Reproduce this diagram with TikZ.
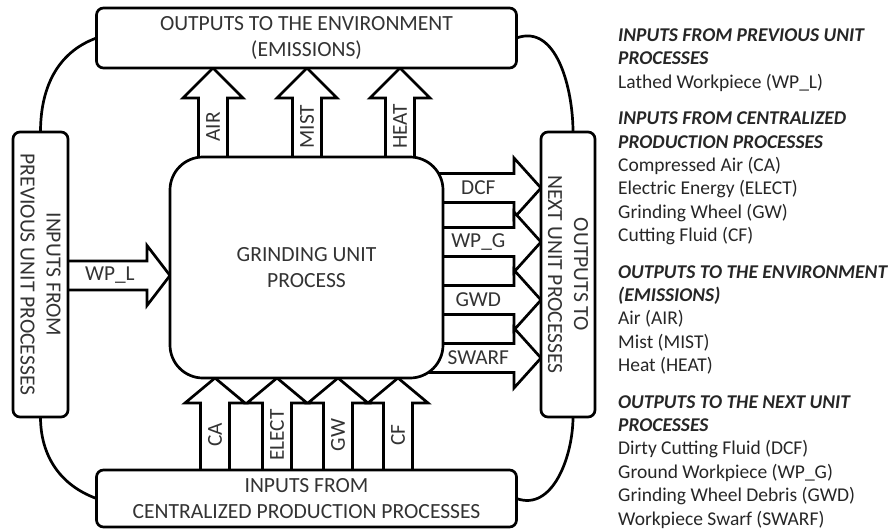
\documentclass[tikz,border=0pt]{standalone}
\usepackage{fontspec}
\setmainfont{Carlito}
\usetikzlibrary{positioning,calc,backgrounds}

\begin{document}
\begin{tikzpicture}[
    x=1pt, y=-1pt,
    node distance=89pt,
    box/.style={draw, line width=2.7pt, fill=white, rounded corners=7pt, align=center, inner sep=0pt, outer sep=0pt, text=black!80, font=\fontsize{21.6}{26}\selectfont},
    lbl/.style={inner sep=0pt, text=black!80, font=\fontsize{21.3}{26}\selectfont},
    link/.style={line width=2.7pt},
    flow head/.store in=\flowhead, flow head=28pt,
    flow/.style={draw, fill=white, line width=2.7pt, line join=miter,
        to path={-- ($(\tikztostart)!14.5pt!90:(\tikztotarget)$)
            -- ($(\tikztotarget)!\flowhead!(\tikztostart)!14.5pt!90:(\tikztotarget)$)
            -- ($(\tikztotarget)!\flowhead!(\tikztostart)!30pt!90:(\tikztotarget)$)
            -- (\tikztotarget)
            -- ($(\tikztotarget)!\flowhead!(\tikztostart)!30pt!-90:(\tikztotarget)$)
            -- ($(\tikztotarget)!\flowhead!(\tikztostart)!14.5pt!-90:(\tikztotarget)$)
            -- ($(\tikztostart)!14.5pt!-90:(\tikztotarget)$) -- cycle}},
    legend/.style={align=left, inner sep=0pt, anchor=north west, text=black!85, font=\fontsize{19.5}{23.4}\selectfont}
]
\useasboundingbox (0,0) rectangle (891,530);

% boxes
\node[box, minimum width=273pt, minimum height=221pt, rounded corners=33pt] (proc) at (306.5,267.5) {GRINDING UNIT\\PROCESS};
\node[box, minimum width=420pt, minimum height=60pt, above=of proc] (env) {OUTPUTS TO THE ENVIRONMENT\\(EMISSIONS)};
\node[box, minimum width=420pt, minimum height=57pt, below=92pt of proc] (cent) {INPUTS FROM\\CENTRALIZED PRODUCTION PROCESSES};
\node[box, rotate=-90, minimum width=285pt, minimum height=55pt] (prev) at (40.5,274.5) {INPUTS FROM\\PREVIOUS UNIT PROCESSES};
\node[box, rotate=-90, minimum width=285pt, minimum height=54pt] (next) at (568,274.5) {OUTPUTS TO\\NEXT UNIT PROCESSES};

% where the flows run
\path (213,0) coordinate (air) (307,0) coordinate (mist) (400,0) coordinate (heat)
      (215,0) coordinate (ca) (277,0) coordinate (elect) (338,0) coordinate (gw) (398,0) coordinate (cf)
      (0,188) coordinate (dcf) (0,242) coordinate (wpg) (0,300) coordinate (gwd) (0,358) coordinate (swarf)
      (0,275.5) coordinate (wpl);

\begin{scope}[on background layer]
\draw[flow, flow head=30pt] (air |- proc.center) to (air |- env.south);
\draw[flow, flow head=30pt] (mist |- proc.center) to (mist |- env.south);
\draw[flow, flow head=30pt] (heat |- proc.center) to (heat |- env.south);
\draw[flow, flow head=25pt] (ca |- cent.center) to (ca |- proc.south);
\draw[flow, flow head=25pt] (elect |- cent.center) to (elect |- proc.south);
\draw[flow, flow head=25pt] (gw |- cent.center) to (gw |- proc.south);
\draw[flow, flow head=25pt] (cf |- cent.center) to (cf |- proc.south);
\draw[flow, flow head=27pt] (proc.center |- dcf) to (next.south |- dcf);
\draw[flow, flow head=27pt] (proc.center |- wpg) to (next.south |- wpg);
\draw[flow, flow head=27pt] (proc.center |- gwd) to (next.south |- gwd);
\draw[flow, flow head=27pt] (proc.center |- swarf) to (next.south |- swarf);
\draw[flow, flow head=23pt] (prev.center |- wpl) to (proc.west |- wpl);
\end{scope}

% flow labels
\node[lbl, rotate=90] (airlbl) at ($(air |- proc.north)!.34!(air |- env.south)$) {AIR};
\node[lbl, rotate=90] (mistlbl) at ($(mist |- proc.north)!.34!(mist |- env.south)$) {MIST};
\node[lbl, rotate=90] (heatlbl) at ($(heat |- proc.north)!.34!(heat |- env.south)$) {HEAT};
\node[lbl, rotate=90] (calbl) at ($(ca |- cent.north)!.38!(ca |- proc.south)$) {CA};
\node[lbl, rotate=90] (electlbl) at ($(elect |- cent.north)!.38!(elect |- proc.south)$) {ELECT};
\node[lbl, rotate=90] (gwlbl) at ($(gw |- cent.north)!.38!(gw |- proc.south)$) {GW};
\node[lbl, rotate=90] (cflbl) at ($(cf |- cent.north)!.38!(cf |- proc.south)$) {CF};
\node[lbl] (dcflbl) at ($(proc.east |- dcf)!.36!(next.south |- dcf)$) {DCF};
\node[lbl] (wpglbl) at ($(proc.east |- wpg)!.36!(next.south |- wpg)$) {WP\_G};
\node[lbl] (gwdlbl) at ($(proc.east |- gwd)!.36!(next.south |- gwd)$) {GWD};
\node[lbl] (swarflbl) at ($(proc.east |- swarf)!.36!(next.south |- swarf)$) {SWARF};
\node[lbl] (wpllbl) at ($(prev.north |- wpl)!.41!(proc.west |- wpl)$) {WP\_L};

% links round the loop
\draw[link] (prev.west) to[out=90, in=200] (env.west);
\draw[link] (env.east) to[out=20, in=90] ([xshift=5pt]next.west);
\draw[link] (prev.east) to[out=-90, in=160] (cent.west);
\draw[link] ([xshift=5pt]next.east) to[out=-90, in=-20] (cent.east);

% key
\node[legend] (key) at (618,28.5) {
  \textbf{\textit{INPUTS FROM PREVIOUS UNIT}}\\
  \textbf{\textit{PROCESSES}}\\
  Lathed Workpiece (WP\_L)\\[13pt]
  \textbf{\textit{INPUTS FROM CENTRALIZED}}\\
  \textbf{\textit{PRODUCTION PROCESSES}}\\
  Compressed Air (CA)\\
  Electric Energy (ELECT)\\
  Grinding Wheel (GW)\\
  Cutting Fluid (CF)\\[13pt]
  \textbf{\textit{OUTPUTS TO THE ENVIRONMENT}}\\
  \textbf{\textit{(EMISSIONS)}}\\
  Air (AIR)\\
  Mist (MIST)\\
  Heat (HEAT)\\[13pt]
  \textbf{\textit{OUTPUTS TO THE NEXT UNIT}}\\
  \textbf{\textit{PROCESSES}}\\
  Dirty Cutting Fluid (DCF)\\
  Ground Workpiece (WP\_G)\\
  Grinding Wheel Debris (GWD)\\
  Workpiece Swarf (SWARF)};
\end{tikzpicture}
\end{document}
